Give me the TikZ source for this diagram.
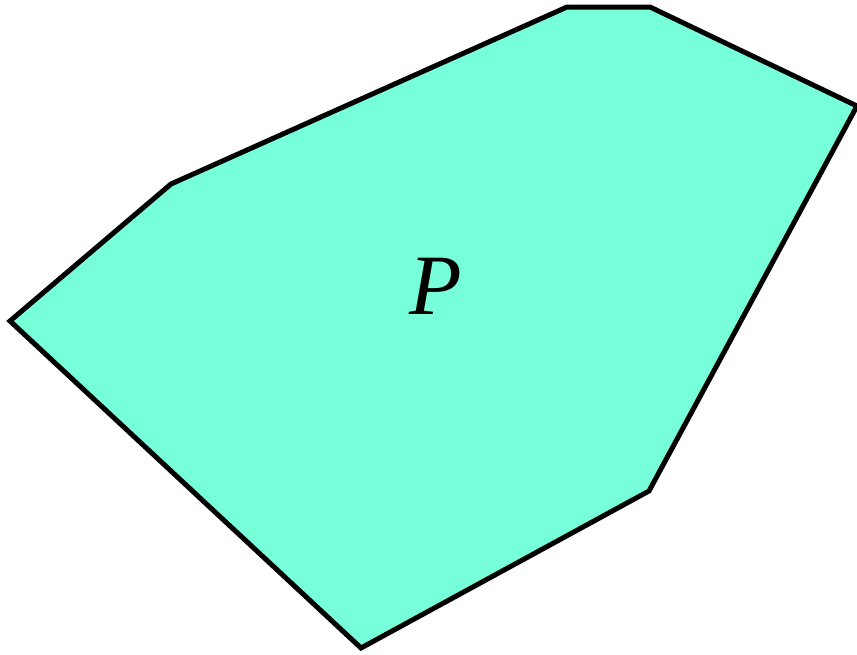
\documentclass[tikz,border=0pt]{standalone}
\usepackage{fontspec}
\setmainfont{Liberation Serif}
\definecolor{polyfill}{RGB}{118,255,217}
\begin{document}
\begin{tikzpicture}[x=1pt,y=-1pt,
  polystyle/.style={fill=polyfill,draw=black,line width=5pt,line join=miter},
  labelstyle/.style={font=\fontsize{86}{86}\selectfont\itshape,inner sep=0pt}]
\useasboundingbox (0,0) rectangle (857,654);
\coordinate (v1) at (10,321);
\coordinate (v2) at (171,184);
\coordinate (v3) at (567,7);
\coordinate (v4) at (650,7);
\coordinate (v5) at (857,106);
\coordinate (v6) at (649,491);
\coordinate (v7) at (361,648);
\draw[polystyle] (v1) -- (v2) -- (v3) -- (v4) -- (v5) -- (v6) -- (v7) -- cycle;
\node[labelstyle] (p) at (436,286) {P};
\end{tikzpicture}
\end{document}
